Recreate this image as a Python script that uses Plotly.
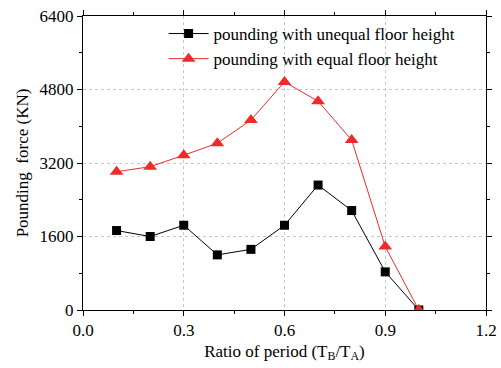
import plotly.graph_objects as go

ratio = [0.1, 0.2, 0.3, 0.4, 0.5, 0.6, 0.7, 0.8, 0.9, 1.0]
unequal = [1730, 1600, 1845, 1200, 1320, 1845, 2720, 2165, 830, 0]
equal = [3010, 3120, 3370, 3630, 4135, 4965, 4545, 3700, 1380, 0]

font = "Times New Roman, Liberation Serif, DejaVu Serif, serif"

fig = go.Figure()
fig.add_trace(go.Scatter(
    x=ratio, y=unequal, mode="lines+markers",
    name="pounding with unequal floor height",
    line=dict(color="black", width=1),
    marker=dict(symbol="square", size=9, color="black"),
))
fig.add_trace(go.Scatter(
    x=ratio, y=equal, mode="lines+markers",
    name="pounding with equal floor height",
    line=dict(color="#ee2a2a", width=1),
    marker=dict(symbol="triangle-up", size=12, color="#ee2a2a"),
))

axis_common = dict(
    showline=True, linecolor="black", linewidth=1, mirror="ticks",
    ticks="outside", ticklen=5, tickcolor="black", tickwidth=1,
    showgrid=True, gridcolor="#c8c8c8", griddash="dot", gridwidth=1,
    zeroline=False, automargin=False,
    tickfont=dict(family=font, size=17, color="black"),
)

fig.update_xaxes(
    range=[0, 1.2], tickvals=[0, 0.3, 0.6, 0.9, 1.2],
    ticktext=["0.0", "0.3", "0.6", "0.9", "1.2"],
    minor=dict(tickvals=[0.15, 0.45, 0.75, 1.05], ticks="outside", ticklen=3, tickcolor="black", showgrid=False),
    title=dict(text="Ratio of period (T<sub>B</sub>/T<sub>A</sub>)", font=dict(family=font, size=17, color="black"), standoff=5),
    **axis_common,
)
fig.update_yaxes(
    range=[0, 6400], tickvals=[0, 1600, 3200, 4800, 6400],
    minor=dict(tickvals=[800, 2400, 4000, 5600], ticks="outside", ticklen=3, tickcolor="black", showgrid=False),
    title=dict(text="Pounding  force (KN)", font=dict(family=font, size=17, color="black"), standoff=6),
    **axis_common,
)

fig.update_layout(
    width=501, height=368,
    margin=dict(l=83, r=15, t=16, b=58),
    paper_bgcolor="white", plot_bgcolor="white",
    showlegend=True,
    legend=dict(
        x=0.2, y=1.0, xanchor="left", yanchor="top",
        bgcolor="rgba(0,0,0,0)", borderwidth=0,
        font=dict(family=font, size=17, color="black"),
        itemwidth=40, tracegroupgap=0,
    ),
)

fig.write_html("out.html")
